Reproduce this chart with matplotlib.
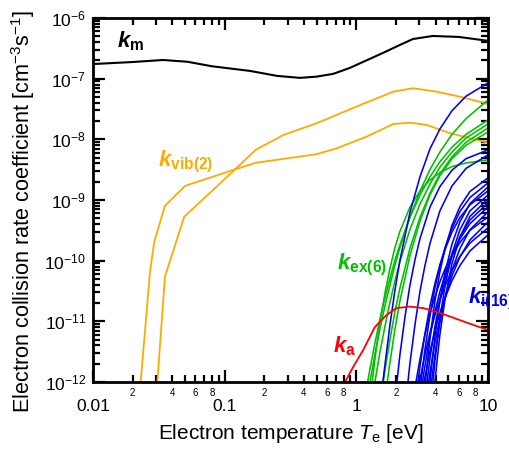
import matplotlib
matplotlib.use("Agg")
import numpy as np
import matplotlib.pyplot as plt
from matplotlib.ticker import FixedLocator, FuncFormatter, NullFormatter

plt.rcParams['font.family'] = ['Liberation Sans', 'DejaVu Sans']
plt.rcParams['mathtext.fontset'] = 'custom'
plt.rcParams['mathtext.rm'] = 'Liberation Sans'
plt.rcParams['mathtext.it'] = 'Liberation Sans:italic'
plt.rcParams['mathtext.bf'] = 'Liberation Sans:bold'
plt.rcParams['mathtext.bfit'] = 'Liberation Sans:bold:italic'

# momentum transfer
km_T = [0.01, 0.02, 0.034, 0.052, 0.08, 0.156, 0.25, 0.373, 0.5, 0.668, 0.89, 1.59, 2.14, 2.69, 3.8, 6.0, 10]
km_k = [1.74e-7, 1.88e-7, 2.03e-7, 1.9e-7, 1.6e-7, 1.34e-7, 1.11e-7, 1.03e-7, 1.08e-7, 1.2e-7,
        1.5e-7, 2.65e-7, 3.59e-7, 4.5e-7, 5.05e-7, 4.87e-7, 4.2e-7]

# vibrational excitation (2)
kvib1_T = [0.0230, 0.0271, 0.0292, 0.0352, 0.050, 0.120, 0.172, 0.373, 0.50, 0.708, 1.2, 1.91, 2.55, 3.42, 5.14, 10]
kvib1_k = [1e-12, 6.6e-11, 2.07e-10, 8.0e-10, 1.71e-9, 3.2e-9, 4.1e-9, 5.2e-9, 5.7e-9, 7.1e-9,
           1.11e-8, 1.79e-8, 1.88e-8, 1.73e-8, 1.26e-8, 8.8e-9]
kvib2_T = [0.0308, 0.0352, 0.0493, 0.120, 0.172, 0.279, 0.50, 1.0, 1.91, 2.70, 4.07, 6.1, 10]
kvib2_k = [1e-12, 5.5e-11, 5.3e-10, 3.2e-9, 6.7e-9, 1.18e-8, 1.84e-8, 3.46e-8, 6.1e-8, 6.95e-8,
           6.1e-8, 5.05e-8, 3.83e-8]

# attachment
ka_T = [0.82, 0.95, 1.13, 1.38, 1.70, 2.02, 2.55, 3.22, 4.0, 5.14, 7.0, 10]
ka_k = [1e-12, 1.8e-12, 3.4e-12, 8.0e-12, 1.28e-11, 1.65e-11, 1.75e-11, 1.65e-11, 1.45e-11, 1.2e-11, 9.4e-12, 7.2e-12]

# electronic excitation (6), log10 of rate
kex_T = [
    [1.218, 1.268, 1.384, 1.51, 1.65, 1.80, 1.96, 2.14, 2.55, 3.04, 3.62, 4.31, 5.32, 6.80, 10],
    [1.268, 1.384, 1.51, 1.65, 1.80, 1.96, 2.14, 2.55, 3.04, 3.62, 4.31, 5.32, 6.80, 10],
    [1.320, 1.384, 1.51, 1.65, 1.80, 1.96, 2.14, 2.55, 3.04, 3.62, 4.31, 5.32, 6.80, 10],
    [1.384, 1.51, 1.65, 1.80, 1.96, 2.14, 2.55, 3.04, 3.62, 4.31, 5.32, 6.80, 10],
    [1.600, 1.65, 1.80, 1.96, 2.14, 2.55, 3.04, 3.62, 4.31, 5.32, 6.80, 10],
    [1.717, 1.80, 1.96, 2.14, 2.55, 3.04, 3.62, 4.31, 5.32, 6.80, 10],
]
kex_log = [
    [-12, -11.79, -11.36, -10.96, -10.61, -10.29, -10.0, -9.74, -9.29, -8.92, -8.62, -8.37, -8.13, -7.92, -7.68],
    [-12, -11.54, -11.13, -10.74, -10.40, -10.08, -9.79, -9.28, -8.86, -8.50, -8.21, -7.92, -7.66, -7.351],
    [-12, -11.62, -11.02, -10.53, -10.13, -9.79, -9.52, -9.12, -8.85, -8.67, -8.55, -8.45, -8.39, -8.339],
    [-12, -11.51, -11.08, -10.69, -10.34, -10.02, -9.49, -9.07, -8.74, -8.46, -8.21, -7.98, -7.746],
    [-12, -11.81, -11.30, -10.85, -10.46, -9.80, -9.29, -8.89, -8.57, -8.29, -8.05, -7.812],
    [-12, -11.68, -11.14, -10.67, -9.92, -9.35, -8.92, -8.60, -8.32, -8.10, -7.878],
]

# ionization (16), log10 of rate
ki_T = [
    [1.59, 1.65, 1.80, 1.96, 2.14, 2.55, 3.04, 3.62, 4.31, 5.32, 6.80, 10],
    [2.034, 2.14, 2.34, 2.55, 2.79, 3.04, 3.62, 4.31, 5.32, 6.80, 10],
    [2.465, 2.55, 2.79, 3.04, 3.32, 3.62, 4.31, 5.32, 6.80, 10],
    [2.835, 3.04, 3.32, 3.62, 3.95, 4.31, 4.71, 5.32, 6.12, 7.29, 10],
    [2.936, 3.04, 3.32, 3.62, 3.95, 4.31, 4.71, 5.32, 6.12, 7.29, 10],
    [3.014, 3.32, 3.62, 3.95, 4.31, 4.71, 5.32, 6.12, 7.29, 10],
    [3.095, 3.32, 3.62, 3.95, 4.31, 4.71, 5.32, 6.12, 7.29, 10],
    [3.177, 3.32, 3.62, 3.95, 4.31, 4.71, 5.32, 6.12, 7.29, 10],
    [3.261, 3.62, 3.95, 4.31, 4.71, 5.32, 6.12, 7.29, 10],
    [3.347, 3.62, 3.95, 4.31, 4.71, 5.32, 6.12, 7.29, 10],
    [3.436, 3.62, 3.95, 4.31, 4.71, 5.32, 6.12, 7.29, 10],
    [3.528, 3.95, 4.31, 4.71, 5.32, 6.12, 7.29, 10],
    [3.622, 3.95, 4.31, 4.71, 5.32, 6.12, 7.29, 10],
    [3.717, 3.95, 4.31, 4.71, 5.32, 6.12, 7.29, 10],
    [3.816, 3.95, 4.31, 4.71, 5.32, 6.12, 7.29, 10],
    [3.953, 4.13, 4.31, 4.71, 5.32, 6.12, 7.29, 10],
]
ki_log = [
    [-12, -11.71, -11.06, -10.50, -10.00, -9.21, -8.62, -8.16, -7.83, -7.53, -7.29, -7.07],
    [-12, -11.56, -10.93, -10.41, -9.98, -9.64, -9.12, -8.78, -8.51, -8.32, -8.175],
    [-12, -11.70, -11.05, -10.51, -10.08, -9.72, -9.18, -8.77, -8.48, -8.257],
    [-12, -11.63, -11.22, -10.88, -10.60, -10.35, -10.14, -9.91, -9.70, -9.50, -9.279],
    [-12, -11.75, -11.20, -10.75, -10.38, -10.07, -9.82, -9.53, -9.29, -9.08, -8.85],
    [-12, -11.55, -11.19, -10.90, -10.64, -10.42, -10.16, -9.93, -9.71, -9.46],
    [-12, -11.46, -10.91, -10.45, -10.09, -9.79, -9.47, -9.19, -8.96, -8.718],
    [-12, -11.73, -11.25, -10.85, -10.51, -10.24, -9.92, -9.64, -9.39, -9.114],
    [-12, -11.50, -11.16, -10.86, -10.62, -10.33, -10.08, -9.84, -9.575],
    [-12, -11.29, -10.67, -10.18, -9.81, -9.42, -9.11, -8.86, -8.636],
    [-12, -11.62, -11.09, -10.66, -10.31, -9.93, -9.61, -9.33, -9.048],
    [-12, -11.35, -10.95, -10.62, -10.25, -9.94, -9.66, -9.361],
    [-12, -11.25, -10.66, -10.20, -9.73, -9.36, -9.06, -8.784],
    [-12, -11.55, -11.03, -10.61, -10.16, -9.80, -9.49, -9.196],
    [-12, -11.66, -10.96, -10.42, -9.89, -9.49, -9.18, -8.916],
    [-12, -11.59, -11.22, -10.64, -10.05, -9.61, -9.27, -8.982],
]

ORANGE = '#FFAA00'
GREEN = '#00C000'
BLUE = '#0000F0'
RED = '#FF0000'

fig = plt.figure(figsize=(5.1, 4.54), dpi=100)
ax = fig.add_axes([0.1824, 0.1586, 0.7745, 0.8018])
ax.set_xscale('log')
ax.set_yscale('log')

ax.plot(kvib1_T, kvib1_k, color=ORANGE, lw=1.3)
ax.plot(kvib2_T, kvib2_k, color=ORANGE, lw=1.3)
for T, lg in zip(kex_T, kex_log):
    ax.plot(T, 10.0 ** np.array(lg), color=GREEN, lw=1.15)
for T, lg in zip(ki_T, ki_log):
    ax.plot(T, 10.0 ** np.array(lg), color=BLUE, lw=1.15)
ax.plot(ka_T, ka_k, color=RED, lw=1.3)
ax.plot(km_T, km_k, color='black', lw=1.5)

ax.set_xlim(0.01, 10)
ax.set_ylim(1e-12, 1e-6)

# ticks
ax.xaxis.set_major_locator(FixedLocator([0.01, 0.1, 1, 10]))
xminor = [m * 10.0 ** e for e in (-2, -1, 0) for m in range(2, 10)]
ax.xaxis.set_minor_locator(FixedLocator(xminor))
ax.xaxis.set_major_formatter(FuncFormatter(lambda v, p: {0.01: '0.01', 0.1: '0.1', 1: '1', 10: '10'}.get(round(v, 3), '')))


def minor_lab(v, p):
    m = int(round(v / 10.0 ** np.floor(np.log10(v) + 1e-9)))
    return str(m) if m in (2, 4, 6, 8) else ''


ax.xaxis.set_minor_formatter(FuncFormatter(minor_lab))
ax.yaxis.set_major_locator(FixedLocator([10.0 ** e for e in range(-12, -5)]))
yminor = [m * 10.0 ** e for e in range(-12, -6) for m in range(2, 10)]
ax.yaxis.set_minor_locator(FixedLocator(yminor))
ax.yaxis.set_major_formatter(FuncFormatter(lambda v, p: r'$\mathregular{10^{%d}}$' % int(round(np.log10(v)))))
ax.yaxis.set_minor_formatter(NullFormatter())

ax.tick_params(which='both', direction='in', top=True, right=True, width=1.6, colors='black')
ax.tick_params(which='major', length=8.5)
ax.tick_params(which='minor', length=5)
ax.tick_params(axis='x', which='major', labelsize=12.5, pad=12)
ax.tick_params(axis='x', which='minor', labelsize=7, pad=4)
ax.tick_params(axis='y', which='major', labelsize=12.5, pad=5)
for s in ax.spines.values():
    s.set_linewidth(2)

ax.set_xlabel(r'Electron temperature $\mathit{T}_\mathregular{e}$ [eV]', fontsize=15, labelpad=6)
ax.set_ylabel(r'Electron collision rate coefficient [cm$^\mathregular{-3}$s$^\mathregular{-1}$]', fontsize=15.6)
ax.yaxis.set_label_coords(-0.143, 0.468)

# curve labels
lab = dict(transform=ax.transAxes, fontsize=16, va='baseline', ha='left')
ax.text(0.061, 0.918, r'$\mathbfit{k}_\mathbf{m}$', color='black', **lab)
ax.text(0.165, 0.591, r'$\mathbfit{k}_\mathbf{vib(2)}$', color=ORANGE, **lab)
ax.text(0.618, 0.308, r'$\mathbfit{k}_\mathbf{ex(6)}$', color=GREEN, **lab)
ax.text(0.949, 0.217, r'$\mathbfit{k}_\mathbf{i(16)}$', color=BLUE, clip_on=False, **lab)
ax.text(0.608, 0.080, r'$\mathbfit{k}_\mathbf{a}$', color=RED, **lab)

fig.savefig('out.png', dpi=100)
